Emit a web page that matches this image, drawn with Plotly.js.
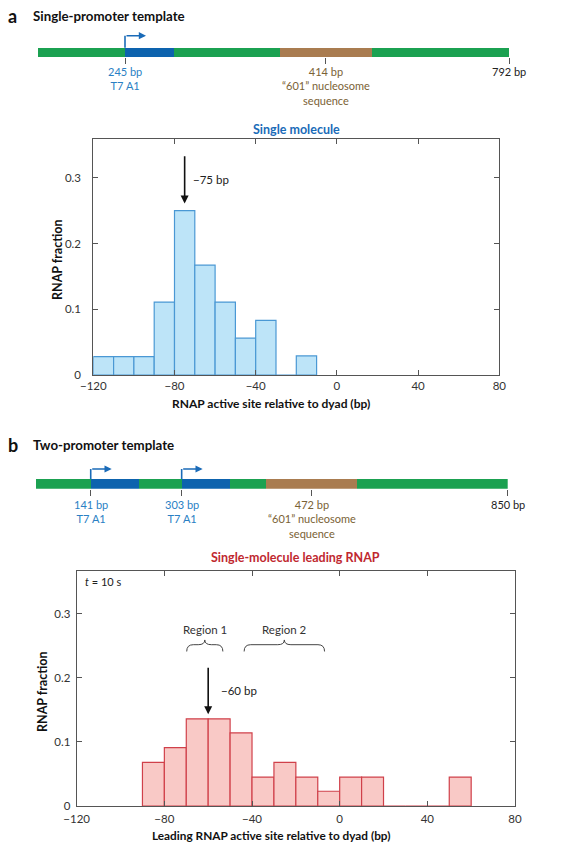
<!DOCTYPE html>
<html>
<head>
<meta charset="utf-8">
<script src="https://cdn.plot.ly/plotly-3.0.1.min.js"></script>
<style>html,body{margin:0;padding:0;background:#fff}#chart{width:571px;height:844px}</style>
</head>
<body>
<div id="chart"></div>
<script>
// ---------- DATA ----------
// Panel a histogram: bin starts (bp) and RNAP fraction
const binStartsA = [-120, -110, -100, -90, -80, -70, -60, -50, -40, -30, -20];
const fractionA  = [0.028, 0.028, 0.028, 0.111, 0.25, 0.167, 0.111, 0.056, 0.083, 0, 0.029];
// Panel b histogram (leading RNAP, t = 10 s)
const binStartsB = [-90, -80, -70, -60, -50, -40, -30, -20, -10, 0, 10, 20, 30, 40, 50];
const fractionB  = [0.068, 0.091, 0.136, 0.136, 0.114, 0.045, 0.068, 0.045, 0.023, 0.045, 0.045, 0, 0, 0, 0.045];
const binWidth = 10;
const xTicks = [-120, -80, -40, 0, 40, 80];
const yTicks = [0, 0.1, 0.2, 0.3];

// Template diagrams (schematic, not to scale): segment boundaries on the drawn template
const templateABounds = [0, 146.7, 229, 407, 561, 792];
const templateAKinds  = ['linker', 'promoter', 'linker', 'nucleosome', 'linker'];
const templateATicks  = [146.7, 484, 792];
const templateALabels = ['245 bp<br>T7 A1', '414 bp<br>\u201c601\u201d nucleosome<br>sequence', '792 bp'];
const templateALabelKinds = ['promoter', 'nucleosome', 'end'];
const templateAPromoters = [146.7];

const templateBBounds = [0, 98.6, 185.6, 262.5, 350, 414.4, 579, 850];
const templateBKinds  = ['linker', 'promoter', 'linker', 'promoter', 'linker', 'nucleosome', 'linker'];
const templateBTicks  = [98.6, 262.5, 496.7, 850];
const templateBLabels = ['141 bp<br>T7 A1', '303 bp<br>T7 A1', '472 bp<br>\u201c601\u201d nucleosome<br>sequence', '850 bp'];
const templateBLabelKinds = ['promoter', 'promoter', 'nucleosome', 'end'];
const templateBPromoters = [98.6, 262.5];

// Annotated features
const peakA = {x: -75, y: 0.261, label: '\u221275 bp'};
const peakB = {x: -60, y: 0.143, label: '\u221260 bp'};
const regionsB = [{label: 'Region 1', start: -69.8, end: -53.3}, {label: 'Region 2', start: -43.6, end: -6.9}];

// ---------- STYLE ----------
const FONT = 'Lato, Open Sans, DejaVu Sans, sans-serif';
const segColor = {linker: '#1ba151', promoter: '#0d63ae', nucleosome: '#a97c50'};
const labelColor = {promoter: '#2a7fc4', nucleosome: '#7a6235', end: '#222'};
const W = 571, H = 844;
const px = v => v / W;
const py = v => 1 - v / H;

function segTrace(bounds, kinds, xa, ya) {
  const base = [], len = [], col = [], y = [];
  for (let i = 0; i < kinds.length; i++) {
    base.push(bounds[i]); len.push(bounds[i + 1] - bounds[i]); col.push(segColor[kinds[i]]); y.push(0);
  }
  return {type: 'bar', orientation: 'h', base: base, x: len, y: y, width: 1,
    marker: {color: col, line: {width: 0}}, xaxis: xa, yaxis: ya, hoverinfo: 'skip', showlegend: false};
}
function histTrace(starts, vals, fill, line, xa, ya) {
  return {type: 'bar', x: starts.map(s => s + binWidth / 2), y: vals, width: binWidth,
    marker: {color: fill, line: {color: line, width: 1.2}}, xaxis: xa, yaxis: ya,
    hoverinfo: 'skip', showlegend: false};
}

const data = [
  histTrace(binStartsA, fractionA, '#bde4f8', '#4a98d4', 'x', 'y'),
  histTrace(binStartsB, fractionB, '#f9c9c6', '#d0404a', 'x2', 'y2'),
  segTrace(templateABounds, templateAKinds, 'x3', 'y3'),
  segTrace(templateBBounds, templateBKinds, 'x4', 'y4')
];

const histAxis = (extra) => Object.assign({
  showline: true, linecolor: '#555', linewidth: 1, mirror: 'ticks', ticks: 'inside', ticklen: 5,
  tickcolor: '#555', tickwidth: 1, showgrid: false, zeroline: false,
  tickfont: {family: FONT, size: 11.5, color: '#333'}
}, extra);

const annotations = [];
const shapes = [];
const txt = (o) => annotations.push(Object.assign({showarrow: false, xanchor: 'center', yanchor: 'middle'}, o));

function addTemplateLabels(ticks, labels, kinds, xa, topPx) {
  ticks.forEach((t, i) => {
    txt({xref: xa, yref: 'paper', x: t, y: py(topPx), yanchor: 'top', text: labels[i],
      font: {family: FONT, size: 11, color: labelColor[kinds[i]]}});
  });
}
function addPromoterArrows(list, xa, barTopPx, arrowPx) {
  list.forEach(p => {
    shapes.push({type: 'line', xref: xa, yref: 'paper', x0: p, x1: p, y0: py(barTopPx), y1: py(arrowPx),
      line: {color: '#1a6bb8', width: 1.6}});
    annotations.push({xref: xa, yref: 'paper', x: p, y: py(arrowPx), xshift: 21, ax: -21, ay: 0,
      text: '', showarrow: true, arrowhead: 2, arrowsize: 0.9, arrowwidth: 1.6, arrowcolor: '#1a6bb8'});
  });
}
addTemplateLabels(templateATicks, templateALabels, templateALabelKinds, 'x3', 63);
addTemplateLabels(templateBTicks, templateBLabels, templateBLabelKinds, 'x4', 496);
addPromoterArrows(templateAPromoters, 'x3', 47.7, 35.7);
addPromoterArrows(templateBPromoters, 'x4', 479, 469);

// Panel headings
[['a', 'Single-promoter template', 16], ['b', 'Two-promoter template', 445]].forEach(h => {
  txt({xref: 'paper', yref: 'paper', x: px(6), y: py(h[2]), xanchor: 'left',
    text: '<b>' + h[0] + '</b>', font: {family: FONT, size: 18, color: '#111'}});
  txt({xref: 'paper', yref: 'paper', x: px(31), y: py(h[2]), xanchor: 'left',
    text: '<b>' + h[1] + '</b>', font: {family: FONT, size: 13.3, color: '#111'}});
});
// Histogram titles
txt({xref: 'x domain', yref: 'paper', x: 0.5, y: py(129), text: '<b>Single molecule</b>',
  font: {family: FONT, size: 12.5, color: '#1a6bb8'}});
txt({xref: 'x2 domain', yref: 'paper', x: 0.5, y: py(557), text: '<b>Single-molecule leading RNAP</b>',
  font: {family: FONT, size: 12.5, color: '#c0282f'}});
// Axis titles (placed as in the figure)
txt({xref: 'paper', yref: 'paper', x: px(271), y: py(403.5), text: '<b>RNAP active site relative to dyad (bp)</b>',
  font: {family: FONT, size: 12, color: '#111'}});
txt({xref: 'paper', yref: 'paper', x: px(271), y: py(835), text: '<b>Leading RNAP active site relative to dyad (bp)</b>',
  font: {family: FONT, size: 11.8, color: '#111'}});
txt({xref: 'paper', yref: 'paper', x: px(58), y: py(260), textangle: -90, text: '<b>RNAP fraction</b>',
  font: {family: FONT, size: 12.5, color: '#111'}});
txt({xref: 'paper', yref: 'paper', x: px(42), y: py(692), textangle: -90, text: '<b>RNAP fraction</b>',
  font: {family: FONT, size: 12.5, color: '#111'}});
// Peak arrows
annotations.push({xref: 'x', yref: 'y', axref: 'x', ayref: 'y', x: peakA.x, y: peakA.y, ax: peakA.x, ay: 0.335,
  text: '', showarrow: true, arrowhead: 2, arrowsize: 1, arrowwidth: 1.6, arrowcolor: '#111'});
txt({xref: 'x', yref: 'y', x: peakA.x + 3, y: 0.298, xanchor: 'left', text: peakA.label,
  font: {family: FONT, size: 11.5, color: '#222'}});
annotations.push({xref: 'x2', yref: 'y2', axref: 'x2', ayref: 'y2', x: peakB.x, y: peakB.y, ax: peakB.x, ay: 0.218,
  text: '', showarrow: true, arrowhead: 2, arrowsize: 1, arrowwidth: 1.6, arrowcolor: '#111'});
txt({xref: 'x2', yref: 'y2', x: peakB.x + 5, y: 0.18, xanchor: 'left', text: peakB.label,
  font: {family: FONT, size: 11.5, color: '#222'}});
txt({xref: 'paper', yref: 'paper', x: px(83), y: py(581), xanchor: 'left', text: '<i>t</i> = 10 s',
  font: {family: FONT, size: 11, color: '#222'}});
// Regions with braces
regionsB.forEach(r => {
  const xm = (r.start + r.end) / 2, d = 3, yb = 0.241, yt = 0.2516, yp = 0.259;
  shapes.push({type: 'path', xref: 'x2', yref: 'y2', line: {color: '#444', width: 1},
    path: `M ${r.start},${yb} Q ${r.start},${yt} ${r.start + d},${yt} L ${xm - d},${yt} Q ${xm},${yt} ${xm},${yp} ` +
          `Q ${xm},${yt} ${xm + d},${yt} L ${r.end - d},${yt} Q ${r.end},${yt} ${r.end},${yb}`});
  txt({xref: 'x2', yref: 'y2', x: xm, y: 0.276, text: r.label, font: {family: FONT, size: 11.5, color: '#333'}});
});

const layout = {
  width: W, height: H, margin: {l: 0, r: 0, t: 0, b: 0}, paper_bgcolor: '#fff', plot_bgcolor: '#fff',
  barmode: 'overlay', bargap: 0, showlegend: false, font: {family: FONT},
  xaxis: histAxis({domain: [px(93.3), px(499.3)], range: [-120, 80], tickvals: xTicks, anchor: 'y', ticklabelstandoff: 0}),
  yaxis: histAxis({domain: [py(375), py(139)], range: [0, 0.359], tickvals: yTicks, anchor: 'x', ticklabelstandoff: 9}),
  xaxis2: histAxis({domain: [px(76.7), px(515)], range: [-120, 80], tickvals: xTicks, anchor: 'y2', ticklabelstandoff: 2}),
  yaxis2: histAxis({domain: [py(806), py(570.7)], range: [0, 0.367], tickvals: yTicks, anchor: 'x2', ticklabelstandoff: 3}),
  xaxis3: {domain: [px(37.7), px(509)], range: [0, 792], anchor: 'y3', showgrid: false, zeroline: false, showline: false,
    ticks: 'outside', ticklen: 6, tickcolor: '#555', tickwidth: 1, tickvals: templateATicks, showticklabels: false},
  yaxis3: {domain: [py(57), py(47.7)], range: [-0.5, 0.5], anchor: 'x3', visible: false},
  xaxis4: {domain: [px(36), px(507.7)], range: [0, 850], anchor: 'y4', showgrid: false, zeroline: false, showline: false,
    ticks: 'outside', ticklen: 6, tickcolor: '#555', tickwidth: 1, tickvals: templateBTicks, showticklabels: false},
  yaxis4: {domain: [py(488.7), py(479)], range: [-0.5, 0.5], anchor: 'x4', visible: false},
  annotations: annotations, shapes: shapes
};

Plotly.newPlot('chart', data, layout, {staticPlot: true, displayModeBar: false});
</script>
</body>
</html>
